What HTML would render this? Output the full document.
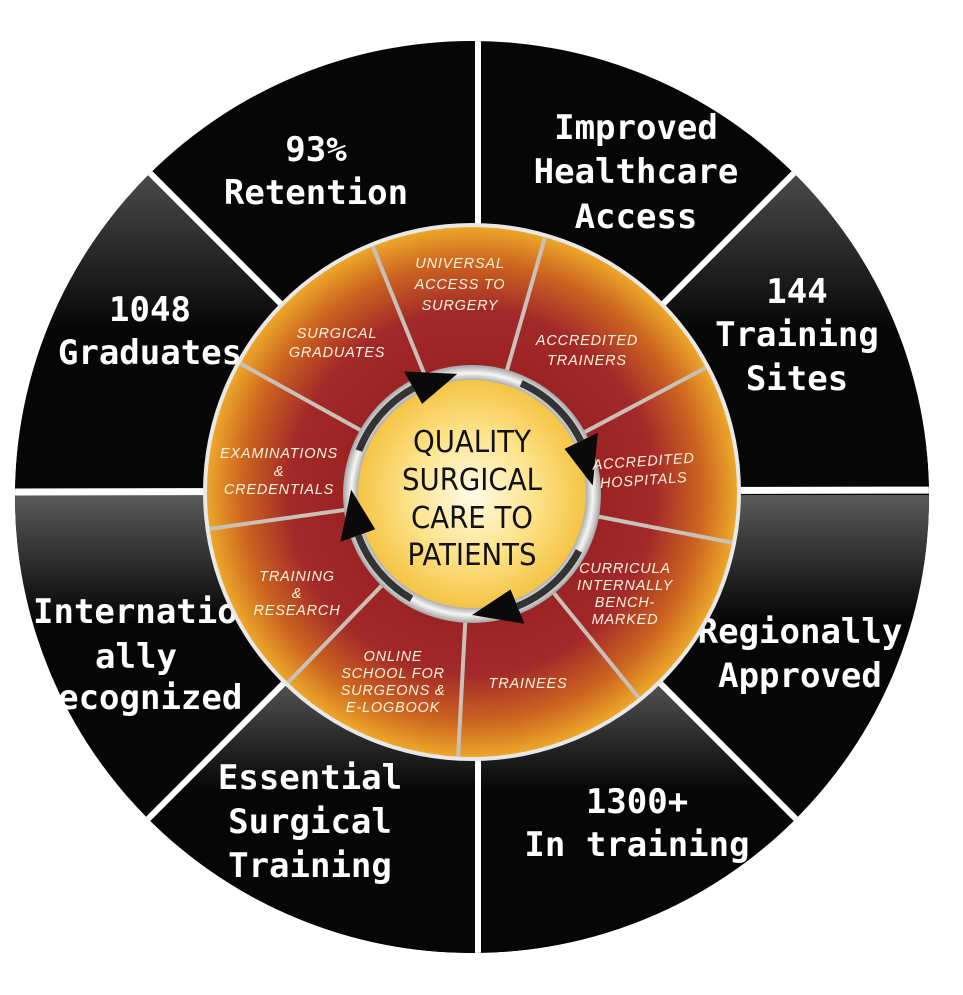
<!DOCTYPE html>
<html><head><meta charset="utf-8"><style>
html,body{margin:0;padding:0;background:#fff;}
svg{display:block;}
.o{font-family:"DejaVu Sans Mono","Liberation Mono",monospace;font-weight:bold;font-size:34px;fill:#fff;text-anchor:middle;}
.i{font-family:"Liberation Sans","DejaVu Sans",sans-serif;font-style:italic;font-size:14.5px;fill:#fff6dc;text-anchor:middle;letter-spacing:0.8px;}
.c{font-family:"DejaVu Sans","Liberation Sans",sans-serif;font-size:30px;fill:#111;text-anchor:middle;}
</style></head><body>
<svg id="s" width="963" height="995" viewBox="0 0 963 995" xmlns="http://www.w3.org/2000/svg">
<defs>
<clipPath id="ell"><ellipse cx="472" cy="497" rx="457" ry="456"/></clipPath>
<linearGradient id="gTop" gradientUnits="userSpaceOnUse" x1="0" y1="175" x2="0" y2="330"><stop offset="0" stop-color="#4a4a4a"/><stop offset="1" stop-color="#060606"/></linearGradient>
<linearGradient id="gMid" gradientUnits="userSpaceOnUse" x1="0" y1="495" x2="0" y2="620"><stop offset="0" stop-color="#5a5a5a"/><stop offset="1" stop-color="#060606"/></linearGradient>
<linearGradient id="gBot" gradientUnits="userSpaceOnUse" x1="0" y1="680" x2="0" y2="790"><stop offset="0" stop-color="#555"/><stop offset="1" stop-color="#060606"/></linearGradient>
<radialGradient id="ring" cx="472" cy="492" r="267" gradientUnits="userSpaceOnUse">
<stop offset="0.45" stop-color="#9b2222"/><stop offset="0.68" stop-color="#a2282a"/><stop offset="0.86" stop-color="#cc6420"/><stop offset="1" stop-color="#eeaa2a"/></radialGradient>
<radialGradient id="yel" cx="472" cy="494" r="114" gradientUnits="userSpaceOnUse">
<stop offset="0" stop-color="#fffbe8"/><stop offset="0.55" stop-color="#fde38a"/><stop offset="1" stop-color="#f5c445"/></radialGradient>
<radialGradient id="silv" cx="472" cy="494" r="130" gradientUnits="userSpaceOnUse">
<stop offset="0.85" stop-color="#888"/><stop offset="0.93" stop-color="#f6f6f6"/><stop offset="1" stop-color="#999"/></radialGradient>
</defs>
<g clip-path="url(#ell)">
<rect x="0" y="0" width="963" height="995" fill="#060606"/>
<path d="M472 495 L0 23 L0 495 Z" fill="url(#gTop)"/>
<path d="M472 495 L963 4 L963 495 Z" fill="url(#gTop)"/>
<path d="M472 495 L0 495 L0 967 Z" fill="url(#gMid)"/>
<path d="M472 495 L963 495 L963 986 Z" fill="url(#gMid)"/>
<path d="M472 495 L0 967 L0 995 L478 995 Z" fill="url(#gBot)"/>
<path d="M472 495 L963 986 L963 995 L478 995 Z" fill="url(#gBot)"/>
<line x1="478" y1="0" x2="478" y2="995" stroke="#fff" stroke-width="6"/>
<line x1="0" y1="492" x2="963" y2="490" stroke="#fff" stroke-width="7"/>
<line x1="-20" y1="3" x2="965" y2="988" stroke="#fff" stroke-width="6"/>
<line x1="965" y1="2" x2="-20" y2="987" stroke="#fff" stroke-width="6"/>
</g>
<g>
<text x="316" y="161" class="o">93%</text>
<text x="316" y="204" class="o">Retention</text>
<text x="636" y="139" class="o">Improved</text>
<text x="636" y="183" class="o">Healthcare</text>
<text x="636" y="228" class="o">Access</text>
<text x="150" y="321" class="o">1048</text>
<text x="150" y="364" class="o">Graduates</text>
<text x="797" y="303" class="o">144</text>
<text x="797" y="346" class="o">Training</text>
<text x="797" y="390" class="o">Sites</text>
<text x="33" y="623" class="o" style="text-anchor:start">Internationally</text>
<text x="136" y="668" class="o">ally</text>
<text x="140" y="709" class="o">Recognized</text>
<text x="800" y="643" class="o">Regionally</text>
<text x="800" y="687" class="o">Approved</text>
<text x="310" y="789" class="o">Essential</text>
<text x="310" y="833" class="o">Surgical</text>
<text x="310" y="877" class="o">Training</text>
<text x="637" y="813" class="o">1300+</text>
<text x="637" y="856" class="o">In training</text>
</g>
<circle cx="472" cy="492" r="269" fill="#e8e8e8"/>
<circle cx="472" cy="492" r="265" fill="url(#ring)"/>
<g stroke="#c9c0b8" stroke-width="4">
<line x1="425.2" y1="376.1" x2="372.7" y2="246.3"/>
<line x1="506.5" y1="371.8" x2="545.0" y2="237.3"/>
<line x1="582.4" y1="433.3" x2="706.0" y2="367.6"/>
<line x1="594.7" y1="515.9" x2="732.1" y2="542.6"/>
<line x1="550.7" y1="589.1" x2="638.8" y2="697.9"/>
<line x1="465.5" y1="616.8" x2="458.1" y2="756.6"/>
<line x1="385.2" y1="581.9" x2="287.9" y2="682.6"/>
<line x1="348.2" y1="509.4" x2="209.6" y2="528.9"/>
<line x1="362.7" y1="431.4" x2="240.2" y2="363.5"/>
</g>
<circle cx="472" cy="494" r="129" fill="url(#silv)"/>
<circle cx="472" cy="494" r="114" fill="url(#yel)"/>
<g id="arrows"></g>
<g class="i">
<text x="460" y="268">UNIVERSAL</text><text x="460" y="289">ACCESS TO</text><text x="460" y="310">SURGERY</text>
<text x="337" y="338">SURGICAL</text><text x="337" y="357">GRADUATES</text>
<text x="587" y="345">ACCREDITED</text><text x="587" y="365">TRAINERS</text>
<text x="279" y="458">EXAMINATIONS</text><text x="279" y="476">&amp;</text><text x="279" y="494">CREDENTIALS</text>
<text x="644" y="466" transform="rotate(-4 644 466)">ACCREDITED</text><text x="644" y="485" transform="rotate(-4 644 485)">HOSPITALS</text>
<text x="297" y="581">TRAINING</text><text x="297" y="598">&amp;</text><text x="297" y="615">RESEARCH</text>
<text x="625" y="573">CURRICULA</text><text x="625" y="590">INTERNALLY</text><text x="625" y="607">BENCH-</text><text x="625" y="624">MARKED</text>
<text x="393" y="661">ONLINE</text><text x="393" y="678">SCHOOL FOR</text><text x="393" y="695">SURGEONS &amp;</text><text x="393" y="712">E-LOGBOOK</text>
<text x="528" y="688">TRAINEES</text>
</g>
<g class="c">
<text x="472" y="452" transform="translate(472 0) scale(0.92 1) translate(-472 0)">QUALITY</text>
<text x="472" y="490" transform="translate(472 0) scale(0.92 1) translate(-472 0)">SURGICAL</text>
<text x="472" y="528" transform="translate(472 0) scale(0.92 1) translate(-472 0)">CARE TO</text>
<text x="472" y="565" transform="translate(472 0) scale(0.92 1) translate(-472 0)">PATIENTS</text>
</g>
</svg>
<script>
(function(){
var cx=472,cy=494,g=document.getElementById('arrows'),ns='http://www.w3.org/2000/svg';
function P(a,r){var t=a*Math.PI/180;return [cx+r*Math.sin(t),cy-r*Math.cos(t)];}
[353,86,180,272].forEach(function(tip){
 var base=tip-22,tail=base-40;
 var a=P(tail,121),b=P(base,121);
 var p=document.createElementNS(ns,'path');
 p.setAttribute('d','M'+a+' A121 121 0 0 1 '+b);
 p.setAttribute('fill','none');p.setAttribute('stroke','#333');p.setAttribute('stroke-width','7');
 g.appendChild(p);
 var h=document.createElementNS(ns,'polygon');
 var t=P(tip,121),b1=P(base,103),b2=P(base,140);
 h.setAttribute('points',t+' '+b1+' '+b2);
 h.setAttribute('fill','#0a0a0a');
 g.appendChild(h);
});
})();
</script>
</body></html>
